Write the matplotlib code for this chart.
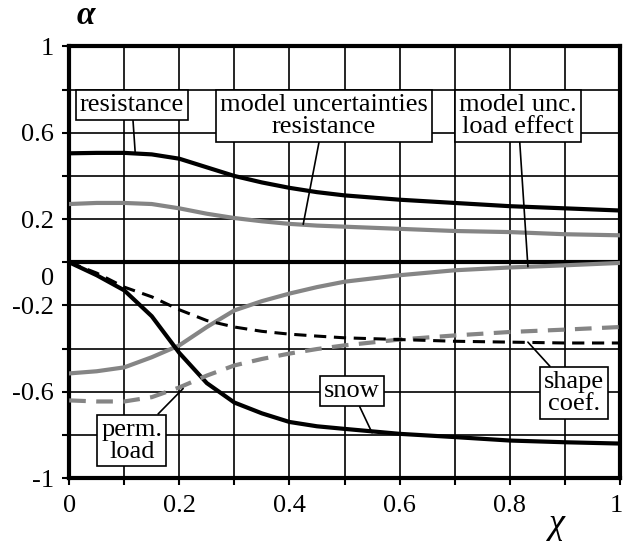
import numpy as np
import matplotlib.pyplot as plt
import matplotlib.transforms as mtransforms

plt.rcParams['font.family'] = ['Liberation Serif', 'DejaVu Serif']

chi = [0, 0.05, 0.1, 0.15, 0.2, 0.25, 0.3, 0.35, 0.4, 0.45, 0.5, 0.6, 0.7, 0.8, 0.9, 1.0]

resistance = [0.505, 0.507, 0.507, 0.50, 0.48, 0.44, 0.40, 0.37, 0.345, 0.325, 0.31, 0.29, 0.275, 0.26, 0.25, 0.24]
model_res = [0.27, 0.275, 0.275, 0.27, 0.25, 0.225, 0.205, 0.19, 0.178, 0.17, 0.165, 0.155, 0.145, 0.14, 0.13, 0.125]
model_load = [-0.515, -0.505, -0.487, -0.44, -0.385, -0.30, -0.223, -0.18, -0.145, -0.115, -0.09, -0.06, -0.037, -0.024, -0.014, -0.003]
snow = [0.0, -0.06, -0.13, -0.25, -0.42, -0.56, -0.65, -0.70, -0.74, -0.76, -0.772, -0.795, -0.81, -0.826, -0.834, -0.84]
perm_load = [-0.64, -0.645, -0.645, -0.625, -0.58, -0.525, -0.478, -0.448, -0.423, -0.402, -0.385, -0.358, -0.339, -0.323, -0.312, -0.30]
shape_coef = [0.0, -0.05, -0.115, -0.16, -0.22, -0.27, -0.30, -0.32, -0.333, -0.342, -0.35, -0.358, -0.366, -0.37, -0.374, -0.374]

x_ticks = [0, 0.2, 0.4, 0.6, 0.8, 1]
x_ticklabels = ['0', '0.2', '0.4', '0.6', '0.8', '1']
y_ticks = [-1, -0.8, -0.6, -0.4, -0.2, 0, 0.2, 0.4, 0.6, 0.8, 1]
y_ticklabels = ['-1', '', '-0.6', '', '-0.2', '0', '0.2', '', '0.6', '', '1']

gray = '#858585'
fs = 19

fig = plt.figure(figsize=(6.23, 5.47), dpi=100)
ax = fig.add_axes([0.111, 0.126, 0.884, 0.789])

# grid
for gx in np.arange(0.1, 1.0, 0.1):
    ax.axvline(gx, color='black', lw=1.2, zorder=1)
for gy in [-0.8, -0.6, -0.4, -0.2, 0.2, 0.4, 0.6, 0.8]:
    ax.axhline(gy, color='black', lw=1.2, zorder=1)
ax.axhline(0, color='black', lw=3, zorder=1)

ax.plot(chi, resistance, color='black', lw=3.0, zorder=3)
ax.plot(chi, model_res, color=gray, lw=3.0, zorder=3)
ax.plot(chi, model_load, color=gray, lw=3.0, zorder=3)
ax.plot(chi, snow, color='black', lw=3.0, zorder=3)
ax.plot(chi, perm_load, color=gray, lw=3.0, ls=(0, (4, 2.5)), zorder=3)
ax.plot(chi, shape_coef, color='black', lw=2.2, ls=(0, (4, 2.5)), zorder=3)

ax.set_xlim(0, 1)
ax.set_ylim(-1, 1)
ax.set_xticks(x_ticks)
ax.set_xticklabels(x_ticklabels)
ax.set_xticks(np.arange(0, 1.01, 0.1), minor=True)
ax.set_yticks(y_ticks)
ax.set_yticklabels(y_ticklabels)
ax.tick_params(axis='both', which='both', direction='out', length=5, width=1.5,
               labelsize=fs, colors='black')
ax.tick_params(axis='x', pad=7)
ax.tick_params(axis='y', pad=6)
for sp in ax.spines.values():
    sp.set_linewidth(3)

# nudge the "0" label a bit lower as in the original
for lab in ax.get_yticklabels():
    if lab.get_text() == '0':
        lab.set_transform(lab.get_transform() +
                          mtransforms.ScaledTranslation(0, -0.14, fig.dpi_scale_trans))
# keep the last x label inside the picture
for lab in ax.get_xticklabels():
    if lab.get_text() == '1':
        lab.set_transform(lab.get_transform() +
                          mtransforms.ScaledTranslation(-0.04, 0, fig.dpi_scale_trans))

box = dict(boxstyle='square,pad=0.15', fc='white', ec='black', lw=1.2)
arrow = dict(arrowstyle='-', color='black', lw=1.2, shrinkA=0, shrinkB=0)

ax.annotate('resistance', xy=(0.12, 0.505), xytext=(0.114, 0.73),
            ha='center', va='center', fontsize=fs, bbox=box, arrowprops=arrow, zorder=5)
ax.annotate('model uncertainties\nresistance', xy=(0.425, 0.176), xytext=(0.463, 0.68),
            ha='center', va='center', fontsize=fs, bbox=box, arrowprops=arrow,
            linespacing=1.0, zorder=5)
ax.annotate('model unc.\nload effect', xy=(0.833, -0.02), xytext=(0.815, 0.68),
            ha='center', va='center', fontsize=fs, bbox=box, arrowprops=arrow,
            linespacing=1.0, zorder=5)
ax.annotate('perm.\nload', xy=(0.207, -0.585), xytext=(0.114, -0.826),
            ha='center', va='center', fontsize=fs, bbox=box, arrowprops=arrow,
            linespacing=1.0, zorder=5)
ax.annotate('snow', xy=(0.55, -0.79), xytext=(0.514, -0.596),
            ha='center', va='center', fontsize=fs, bbox=box, arrowprops=arrow, zorder=5)
ax.annotate('shape\ncoef.', xy=(0.833, -0.37), xytext=(0.917, -0.605),
            ha='center', va='center', fontsize=fs, bbox=box, arrowprops=arrow,
            linespacing=1.0, zorder=5)

fig.text(0.137, 0.972, 'α', fontsize=24, fontstyle='italic', fontweight='bold',
         ha='center', va='center')
fig.text(0.893, 0.026, 'χ', fontsize=26, fontstyle='italic',
         ha='center', va='baseline')

fig.savefig('out.png', dpi=100)
